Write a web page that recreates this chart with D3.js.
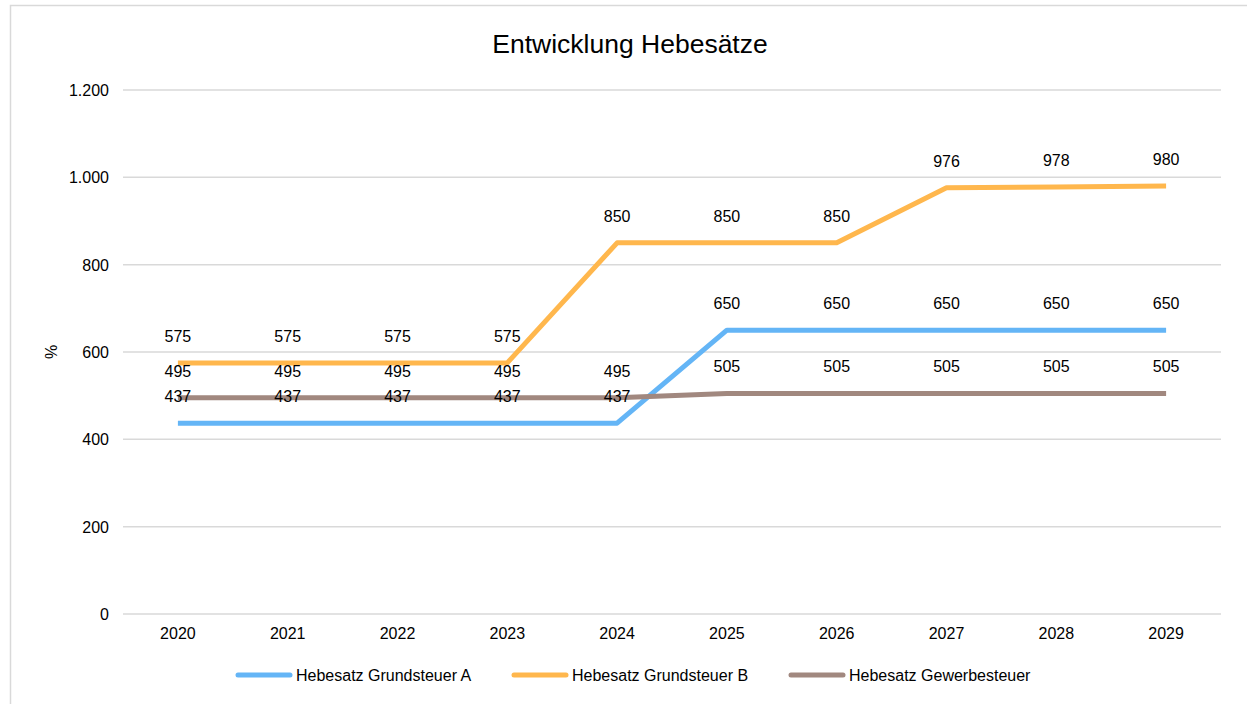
<!DOCTYPE html>
<html>
<head>
<meta charset="utf-8">
<script src="https://cdn.jsdelivr.net/npm/d3@7"></script>
<style>
  body { margin: 0; background: #fff; }
  svg text { font-family: "Liberation Sans", Arial, sans-serif; fill: #000; }
</style>
</head>
<body>
<div id="chart"></div>
<script>
// chart data
const years = ['2020', '2021', '2022', '2023', '2024', '2025', '2026', '2027', '2028', '2029'];
const grundsteuerA = [437, 437, 437, 437, 437, 650, 650, 650, 650, 650];
const grundsteuerB = [575, 575, 575, 575, 850, 850, 850, 976, 978, 980];
const gewerbesteuer = [495, 495, 495, 495, 495, 505, 505, 505, 505, 505];
const yTicks = [0, 200, 400, 600, 800, 1000, 1200];
const seriesNames = ['Hebesatz Grundsteuer A', 'Hebesatz Grundsteuer B', 'Hebesatz Gewerbesteuer'];

const series = [
  { name: seriesNames[0], values: grundsteuerA, color: '#64B5F6' },
  { name: seriesNames[1], values: grundsteuerB, color: '#FFB74D' },
  { name: seriesNames[2], values: gewerbesteuer, color: '#A1887F' }
];

const W = 1247;
const H = 704;
const margin = { top: 90, right: 26, bottom: 90, left: 123 };
const width = W - margin.left - margin.right;
const height = 614 - margin.top;
const fs = '16px';

const svg = d3.select('#chart')
  .append('svg')
  .attr('width', W)
  .attr('height', H);

// outer chart border
svg.append('rect')
  .attr('x', 10.5)
  .attr('y', 5.5)
  .attr('width', W)
  .attr('height', H)
  .attr('fill', 'none')
  .attr('stroke', '#d9d9d9')
  .attr('stroke-width', 1.5);

svg.append('text')
  .attr('x', 630)
  .attr('y', 53)
  .attr('text-anchor', 'middle')
  .style('font-size', '26.5px')
  .text('Entwicklung Hebesätze');

const g = svg.append('g')
  .attr('transform', `translate(${margin.left},${margin.top})`);

const x = d3.scaleBand().domain(years).range([0, width]);
const y = d3.scaleLinear().domain([0, 1200]).range([height, 0]);
const fmt = d3.formatLocale({ decimal: ',', thousands: '.', grouping: [3], currency: ['', ''] }).format(',');

// gridlines
g.selectAll('.grid')
  .data(yTicks)
  .enter()
  .append('line')
  .attr('x1', 0)
  .attr('x2', width)
  .attr('y1', d => y(d))
  .attr('y2', d => y(d))
  .attr('stroke', '#d9d9d9')
  .attr('stroke-width', 1.5);

// y axis
const gY = g.append('g').call(d3.axisLeft(y).tickValues(yTicks).tickFormat(fmt).tickSize(0).tickPadding(14));
gY.select('.domain').remove();
gY.selectAll('text').style('font-size', fs).attr('dy', '0.35em');

// x axis
const gX = g.append('g')
  .attr('transform', `translate(0,${height})`)
  .call(d3.axisBottom(x).tickSize(0).tickPadding(13.5));
gX.select('.domain').remove();
gX.selectAll('text').style('font-size', fs);

svg.append('text')
  .attr('transform', 'translate(57,352) rotate(-90)')
  .attr('text-anchor', 'middle')
  .style('font-size', fs)
  .text('%');

const line = d3.line()
  .x((d, i) => x(years[i]) + x.bandwidth() / 2)
  .y(d => y(d));

g.selectAll('.series')
  .data(series)
  .enter()
  .append('path')
  .attr('d', d => line(d.values))
  .attr('fill', 'none')
  .attr('stroke', d => d.color)
  .attr('stroke-width', 5)
  .attr('stroke-linejoin', 'round');

// data labels
series.forEach(s => {
  g.selectAll(null)
    .data(s.values)
    .enter()
    .append('text')
    .attr('x', (d, i) => x(years[i]) + x.bandwidth() / 2)
    .attr('y', d => y(d) - 21)
    .attr('text-anchor', 'middle')
    .style('font-size', fs)
    .text(d => fmt(d));
});

// legend
const legendX = [238, 514, 791];
const legend = svg.selectAll('.legend')
  .data(series)
  .enter()
  .append('g')
  .attr('transform', (d, i) => `translate(${legendX[i]},675)`);
legend.append('line')
  .attr('x1', 0)
  .attr('x2', 52)
  .attr('stroke', d => d.color)
  .attr('stroke-width', 5)
  .attr('stroke-linecap', 'round');
legend.append('text')
  .attr('x', 58)
  .attr('dy', '0.35em')
  .style('font-size', fs)
  .text(d => d.name);
</script>
</body>
</html>
